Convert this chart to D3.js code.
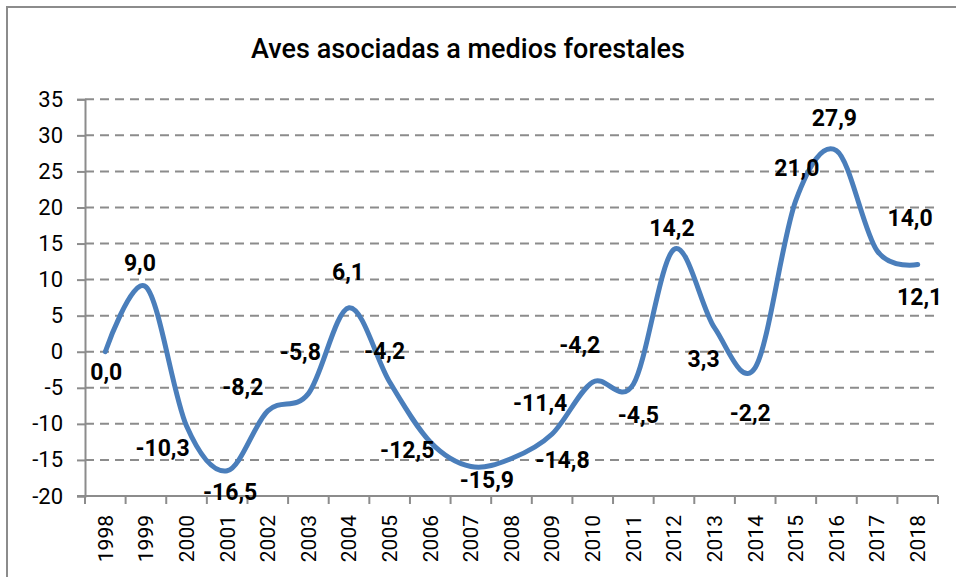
<!DOCTYPE html>
<html>
<head>
<meta charset="utf-8">
<script src="https://cdn.jsdelivr.net/npm/d3@7"></script>
<style>
  html, body { margin: 0; padding: 0; background: #fff; }
  svg { display: block; }
</style>
</head>
<body>
<svg id="chart" width="956" height="577"></svg>
<script>
// ---- data ----
const years = ["1998","1999","2000","2001","2002","2003","2004","2005","2006","2007","2008","2009","2010","2011","2012","2013","2014","2015","2016","2017","2018"];
const values = [0.0, 9.0, -10.3, -16.5, -8.2, -5.8, 6.1, -4.2, -12.5, -15.9, -14.8, -11.4, -4.2, -4.5, 14.2, 3.3, -2.2, 21.0, 27.9, 14.0, 12.1];
const yTicks = [-20, -15, -10, -5, 0, 5, 10, 15, 20, 25, 30, 35];
const title = "Aves asociadas a medios forestales";
// label offsets (layout only, pixels relative to point)
const labelDx = [1, -6, -24, 3, -25, -8, -1, -5, -23, 16, 51, -12, -13, 5, -2, -11, -5, 1, -2, 33, 2];
const labelDy = [20, -24, 22, 21, -24, -42, -36, -31, 8, 13, 1, -31, -37, 31, -22, 31, 45, -33, -33, -33, 32];

// ---- layout ----
const svg = d3.select("#chart");
const plotLeft = 85, plotRight = 938, plotTop = 99.3, plotBottom = 496;
const gridColor = "#8c8c8c";
const font = "Roboto, 'DejaVu Sans', sans-serif";

// border
svg.append("rect").attr("x", 7).attr("y", 7).attr("width", 1000).attr("height", 1000)
  .attr("fill", "none").attr("stroke", "#8c8c8c").attr("stroke-width", 2);

const x = d3.scaleBand().domain(years).range([plotLeft, plotRight]).padding(0);
const y = d3.scaleLinear().domain([-20, 35]).range([plotBottom, plotTop]);
const cx = d => x(d) + x.bandwidth() / 2;

// title
svg.append("text").attr("x", 468).attr("y", 58).attr("text-anchor", "middle")
  .attr("font-family", font).attr("font-weight", 500).attr("font-size", 27)
  .attr("fill", "#000").text(title);

// gridlines
svg.append("g").selectAll("line").data(yTicks.filter(t => t !== -20)).join("line")
  .attr("x1", plotLeft).attr("x2", plotRight)
  .attr("y1", d => y(d)).attr("y2", d => y(d))
  .attr("stroke", gridColor).attr("stroke-width", 2).attr("stroke-dasharray", "9,6");

// y axis
const yAxis = svg.append("g").attr("transform", `translate(${plotLeft},0)`)
  .call(d3.axisLeft(y).tickValues(yTicks).tickSize(8).tickPadding(14).tickFormat(d => d));
yAxis.select(".domain").attr("stroke", gridColor).attr("stroke-width", 2);
yAxis.selectAll(".tick line").attr("stroke", gridColor).attr("stroke-width", 2);
yAxis.selectAll(".tick text").attr("font-family", font).attr("font-size", 22).attr("fill", "#000");

// x axis line and boundary ticks
svg.append("line").attr("x1", plotLeft - 8).attr("x2", plotRight).attr("y1", plotBottom).attr("y2", plotBottom)
  .attr("stroke", gridColor).attr("stroke-width", 2);
const boundaries = years.map(d => x(d)).concat([plotRight]);
svg.append("g").selectAll("line").data(boundaries).join("line")
  .attr("x1", d => d).attr("x2", d => d).attr("y1", plotBottom).attr("y2", plotBottom + 8)
  .attr("stroke", gridColor).attr("stroke-width", 2);

// x labels
svg.append("g").selectAll("text").data(years).join("text")
  .attr("transform", d => `translate(${cx(d)},${plotBottom + 19}) rotate(-90)`)
  .attr("text-anchor", "end").attr("dy", "0.35em")
  .attr("font-family", font).attr("font-size", 21).attr("fill", "#000")
  .text(d => d);

// line
const line = d3.line().x((d, i) => cx(years[i])).y(d => y(d)).curve(d3.curveCardinal.tension(0));
svg.append("path").datum(values).attr("d", line)
  .attr("fill", "none").attr("stroke", "#4a7ebb").attr("stroke-width", 5)
  .attr("stroke-linecap", "round").attr("stroke-linejoin", "round");

// data labels
svg.append("g").selectAll("text").data(values).join("text")
  .attr("x", (d, i) => cx(years[i]) + labelDx[i])
  .attr("y", (d, i) => y(d) + labelDy[i])
  .attr("text-anchor", "middle").attr("dy", "0.36em")
  .attr("font-family", font).attr("font-weight", 700).attr("font-size", 23).attr("fill", "#000")
  .text(d => d.toFixed(1).replace(".", ","));
</script>
</body>
</html>
